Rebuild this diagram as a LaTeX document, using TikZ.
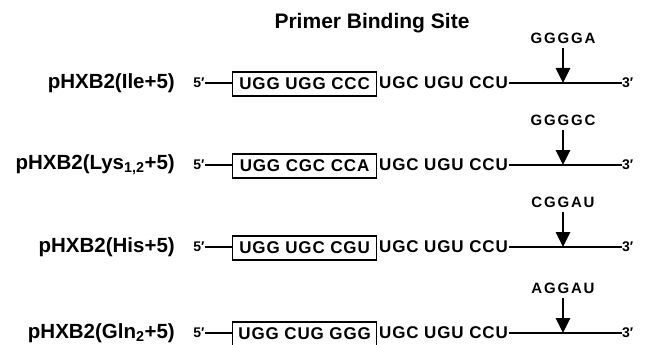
\documentclass[tikz,border=0pt]{standalone}
\usepackage{fontspec}
\setmainfont{Liberation Sans}
\newfontfamily\seqfont[LetterSpace=5]{Liberation Sans}
\newfontfamily\mutfont[LetterSpace=12]{Liberation Sans}
\usetikzlibrary{arrows.meta}
\begin{document}
\begin{tikzpicture}[x=1pt,y=-1pt,
  heading/.style={font=\fontsize{21}{21}\selectfont\bfseries, inner sep=0pt},
  construct/.style={font=\fontsize{20.5}{20.5}\selectfont\bfseries, anchor=east, inner sep=0pt},
  endmark/.style={font=\fontsize{14}{14}\selectfont\bfseries, inner sep=0pt},
  pbsbox/.style={draw, line width=1.2pt, minimum width=144pt, minimum height=24pt,
    inner sep=0pt, anchor=west, font=\seqfont\fontsize{17}{17}\selectfont\bfseries},
  flank/.style={inner sep=0pt, anchor=west, font=\seqfont\fontsize{17}{17}\selectfont\bfseries},
  insert/.style={inner sep=0pt, font=\mutfont\fontsize{15}{15}\selectfont\bfseries},
  thinline/.style={line width=1.4pt},
  thickline/.style={line width=2.5pt},
  sitearrow/.style={line width=2.8pt, shorten <=4pt, -{Triangle[width=14pt,length=15pt]}}
]
\useasboundingbox (0,0) rectangle (646,345);

\node[heading] (pbs) at (372,23) {Primer Binding Site};

\foreach \i/\y/\name/\seq/\ins in {
  1/83/{pHXB2(Ile+5)}/{UGG UGG CCC}/GGGGA,
  2/165/{pHXB2(Lys\textsubscript{1,2}+5)}/{UGG CGC CCA}/GGGGC,
  3/247/{pHXB2(His+5)}/{UGG UGC CGU}/CGGAU,
  4/333/{pHXB2(Gln\textsubscript{2}+5)}/{UGG CUG GGG}/AGGAU}{
  % construct name and 5' end
  \node[construct] (name\i) at (175,\y) {\name};
  \node[endmark] (five\i) at (199,\y) {5′};
  % primer binding site in a box, then the flanking sequence
  \node[pbsbox] (pbs\i) at (232,\y+1) {\seq};
  \node[flank] (flank\i) at (379,\y) {UGC UGU CCU};
  \node[endmark, anchor=west] (three\i) at (622,\y) {3′};
  \draw[thinline] (five\i.east) -- (five\i.east -| pbs\i.west);
  \draw[thickline] (flank\i.east) ++(1,0) -- (three\i.west);
  % insertion site
  \coordinate (site\i) at (563,\y);
  \node[insert] (ins\i) at (563,\y-45) {\ins};
  \draw[sitearrow] (ins\i.south) -- (site\i);
}
\end{tikzpicture}
\end{document}
